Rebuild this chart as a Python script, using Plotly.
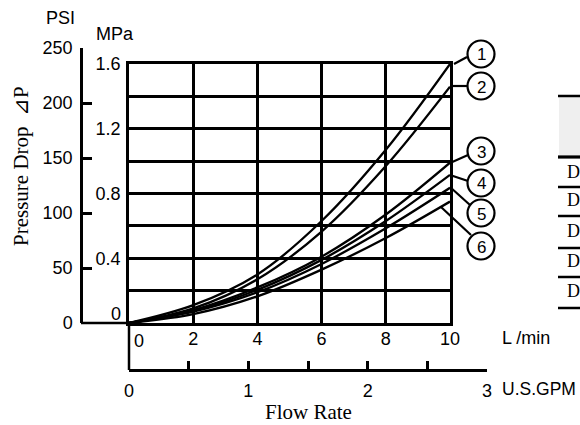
import plotly.graph_objects as go

# ---------------- data ----------------
flow_lpm = [0, 2, 4, 6, 8, 10]
curve1 = [0, 0.11, 0.30, 0.63, 1.07, 1.60]
curve2 = [0, 0.09, 0.27, 0.565, 0.97, 1.46]
curve3 = [0, 0.08, 0.22, 0.41, 0.67, 0.99]
curve4 = [0, 0.075, 0.205, 0.39, 0.63, 0.915]
curve5 = [0, 0.07, 0.19, 0.365, 0.585, 0.835]
curve6 = [0, 0.055, 0.165, 0.33, 0.525, 0.75]
curves = [curve1, curve2, curve3, curve4, curve5, curve6]
curve_labels = ["1", "2", "3", "4", "5", "6"]

lpm_ticks = [0, 2, 4, 6, 8, 10]
lpm_labels = ["", "2", "4", "6", "8", "10"]
mpa_ticks = [0, 0.2, 0.4, 0.6, 0.8, 1.0, 1.2, 1.4, 1.6]
mpa_labels = ["", "", "0.4", "", "0.8", "", "1.2", "", "1.6"]
psi_ticks = [0, 50, 100, 150, 200, 250]
gpm_ticks = [0, 0.5, 1, 1.5, 2, 2.5, 3]
gpm_labels = ["0", "", "1", "", "2", "", "3"]
table_rows = ["D", "D", "D", "D", "D"]

# ---------------- layout helpers (pixel -> paper) ----------------
W, H = 580, 425
def px(x):
    return x / W
def py(y):
    return 1 - y / H

SANS = "Liberation Sans, Arial, sans-serif"
SERIF = "Liberation Serif, Times New Roman, serif"
LW = 2.5

fig = go.Figure()

for vals in curves:
    fig.add_trace(go.Scatter(
        x=flow_lpm, y=vals, mode="lines",
        line=dict(color="black", width=2.3, shape="spline", smoothing=1.0),
        hoverinfo="skip", showlegend=False, xaxis="x", yaxis="y"))

# invisible trace to realise the secondary (GPM / PSI) axes
fig.add_trace(go.Scatter(x=[gpm_ticks[0], gpm_ticks[-1]], y=[psi_ticks[0], psi_ticks[-1]],
                         mode="markers", marker=dict(opacity=0), hoverinfo="skip",
                         showlegend=False, xaxis="x2", yaxis="y2"))

fig.update_layout(
    width=W, height=H, autosize=False,
    margin=dict(l=0, r=0, t=0, b=0, autoexpand=False),
    paper_bgcolor="white", plot_bgcolor="rgba(0,0,0,0)",
    font=dict(family=SANS, size=18, color="black"),
    xaxis=dict(domain=[px(129), px(450)], range=[0, 10], anchor="y",
               tickvals=lpm_ticks, ticktext=lpm_labels, ticks="",
               showgrid=True, gridcolor="black", gridwidth=LW,
               showline=True, mirror=True, linecolor="black", linewidth=LW,
               zeroline=False, ticklabelstandoff=-2, automargin=False,
               tickfont=dict(family=SANS, size=18)),
    yaxis=dict(domain=[py(323), py(64)], range=[0, 1.6], anchor="x",
               tickvals=mpa_ticks, ticktext=mpa_labels, ticks="",
               showgrid=True, gridcolor="black", gridwidth=LW,
               showline=True, mirror=True, linecolor="black", linewidth=LW,
               zeroline=False, ticklabelstandoff=2, automargin=False,
               tickfont=dict(family=SANS, size=18)),
    xaxis2=dict(domain=[px(129), px(487)], range=[0, 3], anchor="free",
                position=py(370), side="bottom",
                tickvals=gpm_ticks, ticktext=gpm_labels, ticks="inside",
                ticklen=8, tickwidth=LW, tickcolor="black",
                showgrid=False, zeroline=False, automargin=False,
                showline=True, linecolor="black", linewidth=LW,
                ticklabelstandoff=4, tickfont=dict(family=SANS, size=18)),
    yaxis2=dict(domain=[py(323), py(48)], range=[0, 250], anchor="free",
                position=px(81), side="left",
                tickvals=psi_ticks, ticks="inside",
                ticklen=9, tickwidth=LW, tickcolor="black",
                showgrid=False, zeroline=False, automargin=False,
                showline=True, linecolor="black", linewidth=LW,
                ticklabelstandoff=4, tickfont=dict(family=SANS, size=18)),
)

shapes = []
# PSI baseline joining the inner chart, and left border down to GPM axis
shapes.append(dict(type="line", xref="paper", yref="paper",
                   x0=px(81), x1=px(129), y0=py(323), y1=py(323),
                   line=dict(color="black", width=LW)))
shapes.append(dict(type="line", xref="paper", yref="paper",
                   x0=px(129), x1=px(129), y0=py(323), y1=py(370),
                   line=dict(color="black", width=LW)))

# curve number circles and leader lines
circle_cy = [54, 86, 151, 183, 213, 246]
leaders = [((454, 64), (467, 57)), ((451, 86), (467, 86)), ((450, 163), (468, 155)),
           ((450, 175), (468, 181)), ((450, 187), (470, 205)), ((441, 207), (471, 235))]
CX, R = 481, 13.5
annotations = []
for lab, cy, (p0, p1) in zip(curve_labels, circle_cy, leaders):
    shapes.append(dict(type="line", xref="paper", yref="paper",
                       x0=px(p0[0]), y0=py(p0[1]), x1=px(p1[0]), y1=py(p1[1]),
                       line=dict(color="black", width=2.2)))
    shapes.append(dict(type="circle", xref="paper", yref="paper",
                       x0=px(CX - R), x1=px(CX + R), y0=py(cy + R), y1=py(cy - R),
                       fillcolor="white", line=dict(color="black", width=2.2)))
    annotations.append(dict(text=lab, xref="paper", yref="paper", x=px(CX), y=py(cy + 1),
                            xanchor="center", yanchor="middle", showarrow=False,
                            font=dict(family=SANS, size=17)))

# partially visible table at the right edge
shapes.append(dict(type="rect", xref="paper", yref="paper",
                   x0=px(559), x1=px(590), y0=py(157), y1=py(96),
                   fillcolor="#efefef", line=dict(width=0), layer="below"))
for yy, w in [(96, 2.5), (157, 3.2), (187, 2.5), (216, 2.5), (248, 2.5), (277, 2.5), (308, 2.5)]:
    shapes.append(dict(type="line", xref="paper", yref="paper",
                       x0=px(558), x1=px(590), y0=py(yy), y1=py(yy),
                       line=dict(color="black", width=w)))
for txt, yy in zip(table_rows, [172, 200, 231, 261, 291]):
    annotations.append(dict(text=txt, xref="paper", yref="paper", x=px(565), y=py(yy),
                            xanchor="left", yanchor="middle", showarrow=False,
                            font=dict(family=SERIF, size=18)))

# unit labels and titles
def label(text, x, y, xa="center", size=18, family=SANS, angle=0):
    annotations.append(dict(text=text, xref="paper", yref="paper", x=px(x), y=py(y),
                            xanchor=xa, yanchor="middle", showarrow=False,
                            textangle=angle, font=dict(family=family, size=size)))

label("PSI", 60, 18)
label("MPa", 115, 34)
label("L /min", 500, 338, xa="left")
label("U.S.GPM", 500, 389, xa="left", size=17.5)
label("Flow Rate", 308, 412, size=21, family=SERIF)
label("Pressure Drop  \u22bfP", 21, 166, size=21, family=SERIF, angle=-90)

# offset zero labels of the inner chart
annotations.append(dict(text="0", xref="x", yref="y", x=0, y=0, xshift=10, yshift=-18,
                        xanchor="center", yanchor="middle", showarrow=False,
                        font=dict(family=SANS, size=18)))
annotations.append(dict(text="0", xref="x", yref="y", x=0, y=0, xshift=-6, yshift=9,
                        xanchor="right", yanchor="middle", showarrow=False,
                        font=dict(family=SANS, size=18)))

fig.update_layout(shapes=shapes, annotations=annotations)

fig.write_html("out.html", config={"displayModeBar": False},
               post_script="document.body.style.margin='0';document.body.style.overflow='hidden';")
